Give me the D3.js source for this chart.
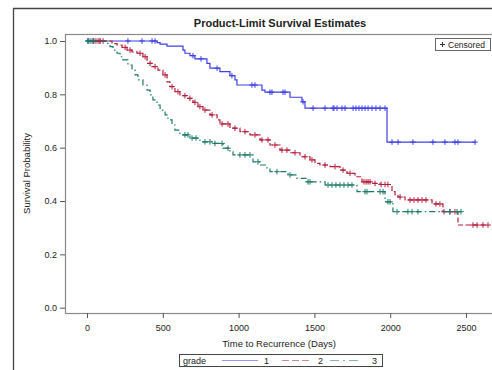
<!DOCTYPE html>
<html>
<head>
<meta charset="utf-8">
<script src="https://cdn.jsdelivr.net/npm/d3@7"></script>
<style>
  body { margin: 0; background: #fff; }
  text { font-family: "Liberation Sans", Arial, sans-serif; fill: #222; }
</style>
</head>
<body>
<div id="chart"></div>
<script>
// Product-limit (Kaplan-Meier) estimates
var groups = ["1", "2", "3"];

var blueTimes = [0, 462, 482, 528, 633, 646, 679, 712, 791, 811, 877, 943, 976, 989, 1154, 1174, 1339, 1418, 1438, 1979];
var blueSurv = [1.0, 0.994, 0.988, 0.981, 0.966, 0.954, 0.945, 0.933, 0.916, 0.898, 0.885, 0.870, 0.854, 0.835, 0.816, 0.808, 0.789, 0.772, 0.748, 0.621];
var blueCensor = [7, 40, 86, 270, 363, 429, 449, 699, 752, 858, 956, 1088, 1108, 1207, 1220, 1293, 1306, 1425, 1491, 1570, 1623, 1629, 1649, 1682, 1702, 1755, 1774, 1794, 1814, 1834, 1854, 1880, 1906, 1933, 1966, 2012, 2052, 2150, 2282, 2361, 2427, 2447, 2560];

var redTimes = [0, 165, 198, 231, 264, 297, 330, 369, 396, 429, 468, 501, 528, 547, 580, 613, 660, 699, 732, 765, 811, 858, 877, 943, 1009, 1075, 1141, 1207, 1273, 1339, 1405, 1471, 1504, 1537, 1603, 1669, 1715, 1768, 1814, 1880, 1933, 2012, 2032, 2051, 2098, 2276, 2348, 2447];
var redSurv = [1.0, 0.99, 0.985, 0.976, 0.966, 0.959, 0.954, 0.941, 0.916, 0.904, 0.891, 0.873, 0.847, 0.829, 0.810, 0.795, 0.785, 0.770, 0.754, 0.741, 0.723, 0.704, 0.689, 0.673, 0.660, 0.648, 0.629, 0.610, 0.591, 0.581, 0.566, 0.554, 0.541, 0.535, 0.529, 0.516, 0.504, 0.491, 0.472, 0.466, 0.462, 0.435, 0.423, 0.415, 0.404, 0.389, 0.360, 0.310];
var redCensor = [40, 59, 73, 86, 106, 251, 284, 350, 383, 416, 449, 515, 561, 600, 646, 679, 712, 745, 778, 825, 891, 930, 976, 1042, 1108, 1154, 1194, 1240, 1286, 1319, 1372, 1438, 1484, 1570, 1636, 1689, 1735, 1827, 1841, 1854, 1867, 1900, 1940, 1966, 1985, 2065, 2131, 2157, 2183, 2210, 2236, 2302, 2328, 2355, 2394, 2427, 2546, 2573, 2612, 2645];

var greenTimes = [0, 132, 152, 172, 198, 218, 237, 270, 297, 317, 336, 369, 396, 416, 435, 462, 482, 515, 534, 561, 580, 613, 679, 745, 831, 897, 943, 963, 1095, 1141, 1187, 1207, 1326, 1385, 1451, 1570, 1781, 1966, 2018];
var greenSurv = [1.0, 0.991, 0.979, 0.966, 0.954, 0.941, 0.929, 0.910, 0.891, 0.873, 0.854, 0.835, 0.816, 0.798, 0.779, 0.760, 0.741, 0.723, 0.704, 0.685, 0.666, 0.648, 0.636, 0.622, 0.616, 0.598, 0.585, 0.573, 0.547, 0.535, 0.523, 0.510, 0.498, 0.485, 0.472, 0.460, 0.435, 0.397, 0.360];
var greenCensor = [5, 13, 26, 46, 646, 666, 693, 719, 778, 811, 844, 891, 930, 1009, 1042, 1075, 1128, 1253, 1339, 1458, 1471, 1590, 1616, 1642, 1669, 1695, 1722, 1748, 1834, 1847, 1933, 1953, 1985, 1999, 2045, 2117, 2144, 2183, 2394, 2441, 2467];

var xTicks = [0, 500, 1000, 1500, 2000, 2500];
var yTicks = [0, 0.2, 0.4, 0.6, 0.8, 1.0];

var svgWidth = 492, svgHeight = 370;
var plot = { left: 65, top: 34, right: 494, bottom: 313 };

var svg = d3.select("#chart").append("svg")
  .attr("width", svgWidth)
  .attr("height", svgHeight);

// outer frame (runs off the right and bottom edge)
svg.append("path")
  .attr("d", "M13.5," + (svgHeight + 2) + "V8.5H" + (svgWidth + 2))
  .attr("fill", "none")
  .attr("stroke", "#444")
  .attr("stroke-width", 1.3);

var xScale = d3.scaleLinear().domain([0, 2500]).range([87, 466]);
var yScale = d3.scaleLinear().domain([0, 1]).range([307.7, 41]);

// title
svg.append("text")
  .attr("x", 280)
  .attr("y", 27)
  .attr("text-anchor", "middle")
  .attr("font-size", "11px")
  .attr("font-weight", "bold")
  .attr("fill", "#111")
  .text("Product-Limit Survival Estimates");

// plot frame
svg.append("rect")
  .attr("x", plot.left + 0.5)
  .attr("y", plot.top + 0.5)
  .attr("width", plot.right - plot.left)
  .attr("height", plot.bottom - plot.top)
  .attr("fill", "#fff")
  .attr("stroke", "#8a8a8a")
  .attr("stroke-width", 1.2);

// axes
var leftAxis = d3.axisLeft(yScale).tickValues(yTicks).tickFormat(d3.format(".1f")).tickSize(5).tickPadding(3);
var bottomAxis = d3.axisBottom(xScale).tickValues(xTicks).tickFormat(d3.format("d")).tickSize(5).tickPadding(7);

var yAxis = svg.append("g")
  .attr("transform", "translate(" + plot.left + ",0)")
  .call(leftAxis);
var xAxis = svg.append("g")
  .attr("transform", "translate(0," + plot.bottom + ")")
  .call(bottomAxis);

[xAxis, yAxis].forEach(function(ax) {
  ax.select(".domain").remove();
  ax.selectAll("line").attr("stroke", "#555");
  ax.selectAll("text").attr("font-size", "9px").attr("fill", "#333")
    .attr("font-family", "'Liberation Sans', Arial, sans-serif");
});

// axis labels
svg.append("text")
  .attr("transform", "translate(30," + ((plot.top + plot.bottom) / 2) + ") rotate(-90)")
  .attr("text-anchor", "middle")
  .attr("font-size", "9.5px")
  .text("Survival Probability");

svg.append("text")
  .attr("x", 279)
  .attr("y", 347)
  .attr("text-anchor", "middle")
  .attr("font-size", "9.5px")
  .text("Time to Recurrence (Days)");

// curves
var series = [
  { name: groups[0], times: blueTimes, surv: blueSurv, censor: blueCensor, color: "#3f3fe6", dash: null },
  { name: groups[1], times: redTimes, surv: redSurv, censor: redCensor, color: "#b61f3c", dash: "5,2.5" },
  { name: groups[2], times: greenTimes, surv: greenSurv, censor: greenCensor, color: "#1d7a68", dash: "6,3,1.5,3" }
];

function survAt(s, t) {
  var v = s.surv[0];
  for (var i = 0; i < s.times.length; i++) {
    if (s.times[i] <= t) v = s.surv[i];
  }
  return v;
}

var stepLine = d3.line()
  .x(d => xScale(d[0]))
  .y(d => yScale(d[1]))
  .curve(d3.curveStepAfter);

var plusSize = 2.8;

series.forEach(function(s) {
  var pts = s.times.map((t, i) => [t, s.surv[i]]);
  var lastT = d3.max(s.censor);
  pts.push([lastT, s.surv[s.surv.length - 1]]);

  svg.append("path")
    .datum(pts)
    .attr("d", stepLine)
    .attr("fill", "none")
    .attr("stroke", s.color)
    .attr("stroke-width", 1.2)
    .attr("stroke-dasharray", s.dash);

  svg.append("g").selectAll("path")
    .data(s.censor)
    .enter()
    .append("path")
    .attr("d", function(t) {
      var cx = xScale(t), cy = yScale(survAt(s, t));
      return "M" + (cx - plusSize) + "," + cy + "H" + (cx + plusSize) +
             "M" + cx + "," + (cy - plusSize) + "V" + (cy + plusSize);
    })
    .attr("stroke", s.color)
    .attr("stroke-width", 1)
    .attr("fill", "none");
});

// censored legend (top right)
var cens = svg.append("g");
cens.append("rect")
  .attr("x", 435.5).attr("y", 38.5)
  .attr("width", 55).attr("height", 12)
  .attr("fill", "#fff").attr("stroke", "#666");
cens.append("path")
  .attr("d", "M440,44.5H445M442.5,42V47")
  .attr("stroke", "#333").attr("stroke-width", 1);
cens.append("text")
  .attr("x", 448).attr("y", 47.5)
  .attr("font-size", "8.5px")
  .text("Censored");

// group legend (bottom)
var leg = svg.append("g");
leg.append("rect")
  .attr("x", 179.5).attr("y", 354.5)
  .attr("width", 203).attr("height", 12)
  .attr("fill", "#fff").attr("stroke", "#444");
leg.append("text")
  .attr("x", 183).attr("y", 364)
  .attr("font-size", "9px")
  .text("grade");

var legX0 = [222, 282, 330];
var legX1 = [258, 310, 362];
var legLabelX = [264, 318, 372];
series.forEach(function(s, i) {
  leg.append("line")
    .attr("x1", legX0[i]).attr("x2", legX1[i])
    .attr("y1", 360.5).attr("y2", 360.5)
    .attr("stroke", s.color)
    .attr("stroke-opacity", 0.55)
    .attr("stroke-width", 1.1)
    .attr("stroke-dasharray", s.dash ? (i === 1 ? "7,3" : "9,4,2,4") : null);
  leg.append("text")
    .attr("x", legLabelX[i]).attr("y", 364)
    .attr("font-size", "9px")
    .text(s.name);
});
</script>
</body>
</html>
